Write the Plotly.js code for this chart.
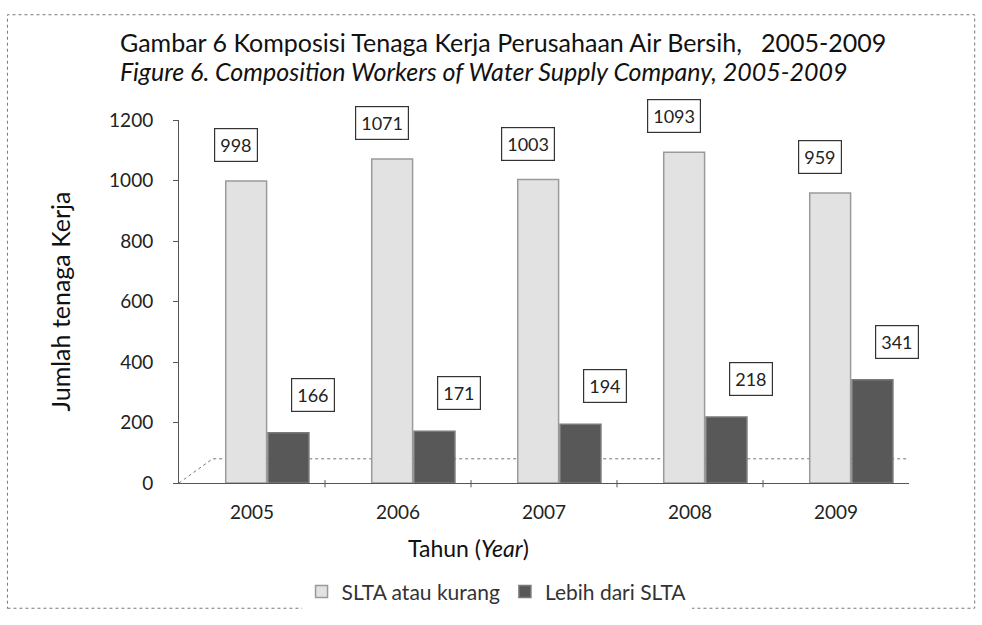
<!DOCTYPE html>
<html>
<head>
<meta charset="utf-8">
<script src="https://cdn.plot.ly/plotly-3.0.1.min.js"></script>
<style>html,body{margin:0;padding:0;background:#fff;}#chart{width:982px;height:625px;}</style>
</head>
<body>
<div id="chart"></div>
<script>
const years = [2005, 2006, 2007, 2008, 2009];
const tickLabels = ["2005", "2006", "2007", "2008", "2009"];
const sltaAtauKurang = [998, 1071, 1003, 1093, 959];
const lebihDariSlta = [166, 171, 194, 218, 341];
const seriesNames = ["SLTA atau kurang", "Lebih dari SLTA"];

const FONT = "Lato, 'Open Sans', sans-serif";
const lightOffset = -0.04, darkOffset = 0.25, barW = 0.28;

const traces = [
  {
    type: "bar", name: seriesNames[0],
    x: years.map(v => v + lightOffset), y: sltaAtauKurang, width: barW,
    marker: {color: "#e2e2e2", line: {color: "#9a9a9a", width: 1.5}},
    hoverinfo: "y"
  },
  {
    type: "bar", name: seriesNames[1],
    x: years.map(v => v + darkOffset), y: lebihDariSlta, width: barW,
    marker: {color: "#585858", line: {color: "#7a7a7a", width: 1.5}},
    hoverinfo: "y"
  }
];

const annotations = [];
years.forEach((yr, i) => {
  annotations.push({x: yr + lightOffset, y: sltaAtauKurang[i], xref: "x", yref: "y",
    text: String(sltaAtauKurang[i]), showarrow: false, xshift: -10, yshift: 36,
    bgcolor: "#fff", bordercolor: "#333", borderwidth: 1.2, borderpad: 5,
    font: {family: FONT, size: 18, color: "#222"}});
  annotations.push({x: yr + darkOffset, y: lebihDariSlta[i], xref: "x", yref: "y",
    text: String(lebihDariSlta[i]), showarrow: false, xshift: 24, yshift: 38,
    bgcolor: "#fff", bordercolor: "#333", borderwidth: 1.2, borderpad: 5,
    font: {family: FONT, size: 18, color: "#222"}});
});
// Title lines
annotations.push({xref: "paper", yref: "paper", x: -0.084, y: 1.215, xanchor: "left", yanchor: "middle",
  showarrow: false, text: "Gambar 6 Komposisi Tenaga Kerja Perusahaan Air Bersih,   2005-2009",
  font: {family: FONT, size: 25, color: "#111"}});
annotations.push({xref: "paper", yref: "paper", x: -0.084, y: 1.1345, xanchor: "left", yanchor: "middle",
  showarrow: false, text: "<i>Figure 6. Composition Workers of Water Supply Company, 2005-2009</i>",
  font: {family: FONT, size: 25, color: "#111"}});
// X axis title
annotations.push({xref: "paper", yref: "paper", x: (468 - 179) / 730, y: (483 - 548) / 363,
  xanchor: "center", yanchor: "middle", showarrow: false,
  text: "Tahun (<i>Year</i>)", font: {family: FONT, size: 23, color: "#111"}});

const boundaryTicks = years.slice(0, -1).map(v => ({
  type: "line", xref: "x", yref: "paper", x0: v + 0.5, x1: v + 0.5, y0: 0.008, y1: -0.012,
  line: {color: "#555", width: 1}
}));

const layout = {
  width: 982, height: 625,
  margin: {l: 179, r: 73, t: 120, b: 142},
  paper_bgcolor: "#fff", plot_bgcolor: "rgba(0,0,0,0)",
  font: {family: FONT, color: "#333"},
  barmode: "overlay",
  showlegend: true,
  legend: {orientation: "h", x: 0.435, xanchor: "center", y: -0.30, yanchor: "middle",
    font: {family: FONT, size: 21, color: "#333"}, itemwidth: 30, tracegroupgap: 0},
  xaxis: {
    range: [2004.5, 2009.5], tickmode: "array", tickvals: years, ticktext: tickLabels,
    showgrid: false, zeroline: false, showline: true, linecolor: "#555", linewidth: 1,
    ticks: "", ticklabelstandoff: 12, tickfont: {family: FONT, size: 19, color: "#222"}
  },
  yaxis: {
    range: [0, 1200], dtick: 200, showgrid: false, zeroline: false,
    showline: true, linecolor: "#555", linewidth: 1, ticks: "outside", ticklen: 5, tickcolor: "#555",
    ticklabelstandoff: 16,
    tickfont: {family: FONT, size: 19, color: "#222"},
    title: {text: "Jumlah tenaga Kerja", font: {family: FONT, size: 25, color: "#111"}, standoff: 31}
  },
  shapes: [
    {type: "path", xref: "x", yref: "y",
     path: "M 2004.5 0 L 2004.73 80 L 2009.77 80 L 2009.52 0",
     line: {color: "#777", width: 1, dash: "dot"}, layer: "below"},
    {type: "rect", xref: "paper", yref: "paper",
     x0: -0.235, x1: 1.09, y0: -0.345, y1: 1.29,
     line: {color: "#777", width: 1, dash: "dot"}}
  ].concat(boundaryTicks),
  annotations: annotations
};

Plotly.newPlot("chart", traces, layout, {displayModeBar: false, staticPlot: true});
</script>
</body>
</html>
